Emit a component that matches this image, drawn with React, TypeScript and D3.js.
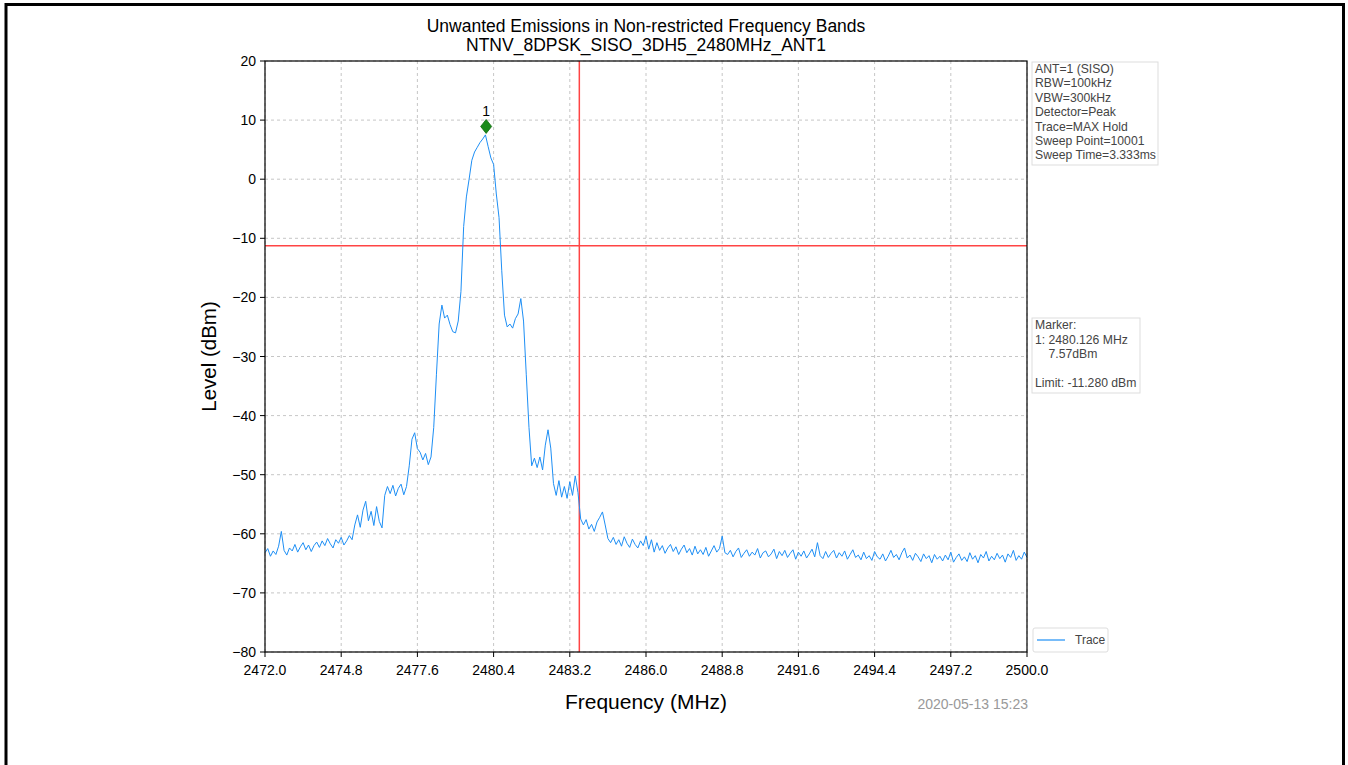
import React from "react";
import * as d3 from "d3";

const TITLE = ["Unwanted Emissions in Non-restricted Frequency Bands", "NTNV_8DPSK_SISO_3DH5_2480MHz_ANT1"];
const xTicks = [2472.0, 2474.8, 2477.6, 2480.4, 2483.2, 2486.0, 2488.8, 2491.6, 2494.4, 2497.2, 2500.0];
const yTicks = [20, 10, 0, -10, -20, -30, -40, -50, -60, -70, -80];
const startFreq = 2472.0;
const stepFreq = 0.1;
const traceLevels = [
  -63.2, -62.5, -63.8, -62.9, -63.5, -62.1, -59.6, -62.8, -63.6, -62.4,
  -62.9, -61.8, -63.1, -62.2, -61.5, -62.7, -61.9, -63.0, -62.0, -61.4,
  -62.3, -61.2, -62.0, -60.8, -61.7, -62.4, -61.0, -61.6, -60.6, -61.9,
  -61.2, -60.3, -61.0, -58.5, -56.8, -58.9, -56.0, -54.5, -57.8, -56.2,
  -58.6, -55.4, -57.9, -59.0, -53.5, -52.0, -53.2, -51.8, -53.6, -52.3,
  -51.6, -53.4, -52.0, -48.5, -44.0, -42.9, -45.6, -46.2, -47.5, -46.4,
  -48.3, -47.0, -42.0, -33.0, -24.5, -21.3, -23.5, -23.0, -24.6, -25.8,
  -26.0, -24.0, -19.0, -8.0, -3.0, 0.0, 3.2, 4.6, 5.4, 6.2,
  6.8, 7.5, 5.5, 3.6, 2.5, -2.5, -6.5, -15.5, -23.0, -25.0,
  -24.5, -25.2, -23.6, -22.8, -20.2, -24.0, -33.0, -42.0, -48.5, -47.2,
  -48.8, -47.0, -49.2, -45.0, -42.4, -45.5, -51.5, -53.5, -51.0, -53.8,
  -52.0, -54.0, -51.2, -53.5, -50.2, -53.0, -57.5, -58.5, -57.6, -59.2,
  -58.4, -59.6, -58.0, -57.2, -56.3, -58.5, -60.8, -61.5, -60.6, -61.8,
  -61.0, -62.1, -60.5, -61.6, -62.3, -60.9, -61.8, -62.4, -61.2, -62.0,
  -60.4, -62.6, -61.0, -63.1, -61.5, -62.8, -62.0, -63.3, -62.4, -61.8,
  -63.0, -62.2, -63.5, -62.6, -61.9, -63.2, -62.5, -63.6, -62.1, -63.4,
  -62.7, -63.5, -62.3, -63.8, -62.9, -62.0, -63.1, -62.5, -60.4, -63.2,
  -63.5, -62.8, -63.9, -63.0, -62.4, -64.0, -63.3, -62.7, -63.8, -63.1,
  -63.6, -62.5, -64.1, -63.2, -62.9, -63.9, -63.4, -62.6, -64.2, -63.0,
  -63.7, -62.8, -64.0, -63.3, -62.7, -64.3, -63.1, -63.8, -62.9, -64.1,
  -63.4, -62.6, -63.9, -61.5, -63.7, -64.2, -63.0, -64.0, -63.3, -62.8,
  -64.1, -63.2, -63.8, -62.9, -64.3, -63.5, -62.7, -64.0, -63.6, -64.4,
  -63.1, -64.2, -63.7, -64.5, -63.0, -63.9, -64.3, -63.4, -64.6, -63.8,
  -62.8, -64.0, -63.5, -64.4, -63.2, -62.4, -64.1, -63.6, -64.5, -63.3,
  -63.9, -64.7, -63.4, -64.2, -63.7, -64.9, -63.5, -64.3, -63.8, -64.6,
  -63.6, -64.4, -63.1, -64.8, -64.0, -63.4, -64.5, -63.9, -64.7, -63.2,
  -64.3, -63.7, -64.9, -63.5, -64.1, -63.0, -64.6, -63.8, -64.4, -63.3,
  -64.2, -63.6, -64.8, -63.4, -64.0, -62.8, -64.5, -63.7, -64.3, -63.1, -64.0,
];
const limitLevel = -11.28;
const limitFreq = 2483.55;
const markerFreq = 2480.126;
const markerLevel = 7.57;
const settingsLines = ["ANT=1 (SISO)", "RBW=100kHz", "VBW=300kHz", "Detector=Peak", "Trace=MAX Hold", "Sweep Point=10001", "Sweep Time=3.333ms"];
const markerLines = ["Marker:", "1: 2480.126 MHz", "    7.57dBm", "", "Limit: -11.280 dBm"];
const timestamp = "2020-05-13 15:23";

const FONT = "'Liberation Sans', Arial, sans-serif";

export default function App() {
  const L = 265, R = 1027, T = 61, B = 652;
  const x = d3.scaleLinear().domain([2472, 2500]).range([L, R]);
  const y = d3.scaleLinear().domain([-80, 20]).range([B, T]);
  const pts: [number, number][] = traceLevels.map((v, i) => [startFreq + i * stepFreq, v]);
  const line = d3.line<[number, number]>().x(d => x(d[0])).y(d => y(d[1]));
  const mx = x(markerFreq);
  const my = y(markerLevel) - 8;

  return (
    <svg width={1348} height={765} style={{ position: "absolute", left: 0, top: 0, background: "#fff" }} fontFamily={FONT}>
      <rect x={0} y={0} width={1348} height={765} fill="#fff" />
      <rect x={6} y={4.5} width={1337.5} height={820} fill="none" stroke="#000" strokeWidth={3} />
      {/* grid */}
      {xTicks.map((t, i) => (
        <line key={"gx" + i} x1={x(t)} x2={x(t)} y1={T} y2={B} stroke="#b8b8b8" strokeWidth={0.8} strokeDasharray="3,3" />
      ))}
      {yTicks.map((t, i) => (
        <line key={"gy" + i} x1={L} x2={R} y1={y(t)} y2={y(t)} stroke="#b8b8b8" strokeWidth={0.8} strokeDasharray="3,3" />
      ))}
      {/* limit lines */}
      <line x1={L} x2={R} y1={y(limitLevel)} y2={y(limitLevel)} stroke="#f44" strokeWidth={1.5} />
      <line x1={x(limitFreq)} x2={x(limitFreq)} y1={T} y2={B} stroke="#f44" strokeWidth={1.5} />
      {/* trace */}
      <path d={line(pts) || ""} fill="none" stroke="#1e8ff5" strokeWidth={1} strokeLinejoin="round" />
      {/* marker */}
      <path d={`M${mx},${my - 7} L${mx + 5.5},${my} L${mx},${my + 7} L${mx - 5.5},${my} Z`} fill="#1a8a1a" stroke="#0f6b0f" strokeWidth={0.8} />
      <text x={mx} y={my - 10} textAnchor="middle" fontSize={14} fill="#000">1</text>
      {/* frame */}
      <rect x={L} y={T} width={R - L} height={B - T} fill="none" stroke="#000" strokeWidth={1.2} />
      {/* ticks */}
      {xTicks.map((t, i) => (
        <g key={"tx" + i}>
          <line x1={x(t)} x2={x(t)} y1={B} y2={B + 5} stroke="#000" strokeWidth={1} />
          <text x={x(t)} y={B + 23} textAnchor="middle" fontSize={14} fill="#000">{t.toFixed(1)}</text>
        </g>
      ))}
      {yTicks.map((t, i) => (
        <g key={"ty" + i}>
          <line x1={L - 5} x2={L} y1={y(t)} y2={y(t)} stroke="#000" strokeWidth={1} />
          <text x={L - 9} y={y(t) + 5} textAnchor="end" fontSize={14} fill="#000">{String(t).replace("-", "\u2212")}</text>
        </g>
      ))}
      {/* titles */}
      <text x={(L + R) / 2} y={32} textAnchor="middle" fontSize={17.5} fill="#000">{TITLE[0]}</text>
      <text x={(L + R) / 2} y={51} textAnchor="middle" fontSize={17.5} fill="#000">{TITLE[1]}</text>
      <text x={(L + R) / 2} y={709} textAnchor="middle" fontSize={21} fill="#000">Frequency (MHz)</text>
      <text transform={`translate(216,${(T + B) / 2}) rotate(-90)`} textAnchor="middle" fontSize={20.5} fill="#000">Level (dBm)</text>
      <text x={1028} y={709} textAnchor="end" fontSize={14} fill="#999">{timestamp}</text>
      {/* settings box */}
      <rect x={1032} y={62} width={126} height={103} fill="#fff" stroke="#ddd" strokeWidth={1} />
      {settingsLines.map((s, i) => (
        <text key={"s" + i} x={1035} y={73 + i * 14.4} fontSize={12.2} fill="#444">{s}</text>
      ))}
      {/* marker box */}
      <rect x={1032} y={318} width={108} height={75} fill="#fff" stroke="#ddd" strokeWidth={1} />
      {markerLines.map((s, i) => (
        <text key={"m" + i} x={1035} y={329 + i * 14.5} fontSize={12.2} fill="#444" style={{ whiteSpace: "pre" }}>{s}</text>
      ))}
      {/* legend */}
      <rect x={1033} y={628} width={75} height={24} rx={2} fill="#fff" stroke="#ddd" strokeWidth={1} />
      <line x1={1037} x2={1065} y1={640} y2={640} stroke="#1e8ff5" strokeWidth={1.2} />
      <text x={1075} y={644} fontSize={12} fill="#444">Trace</text>
    </svg>
  );
}
